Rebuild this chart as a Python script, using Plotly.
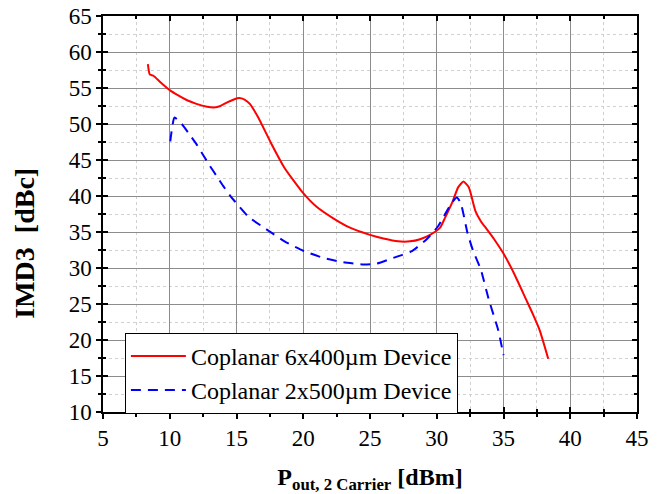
import plotly.graph_objects as go

# Data
red_name = "Coplanar 6x400µm Device"
red_x = [8.36, 8.5, 8.78, 9.3, 10.0, 10.6, 11.3, 12.0, 12.8, 13.3, 13.8, 14.3, 14.8, 15.2, 15.6,
         16.0, 16.6, 17.6, 18.6, 20.0, 21.0, 22.25, 23.5, 25.0, 26.0, 27.1, 28.0, 28.75, 29.5,
         30.25, 30.6, 31.2, 31.6, 32.0, 32.4, 32.9, 33.3, 33.7, 34.3, 35.0, 35.8, 36.7, 37.2,
         37.7, 38.35]
red_y = [58.3, 56.9, 56.7, 55.8, 54.7, 54.0, 53.3, 52.8, 52.4, 52.3, 52.5, 53.0, 53.4, 53.6, 53.4,
         52.8, 51.0, 47.3, 43.9, 40.4, 38.5, 36.9, 35.6, 34.6, 34.1, 33.7, 33.7, 34.0, 34.6,
         35.6, 36.9, 39.3, 41.2, 42.0, 41.2, 37.9, 36.5, 35.5, 34.0, 32.0, 29.2, 25.6, 23.6,
         21.4, 17.4]

blue_name = "Coplanar 2x500µm Device"
blue_x = [10.04, 10.36, 10.9, 11.5, 12.0, 12.5, 13.0, 13.5, 14.0, 14.5, 14.9, 15.9, 17.3, 18.6,
          20.0, 21.5, 23.0, 24.5, 25.5, 26.75, 28.1, 29.25, 30.1, 31.1, 31.5, 31.8, 32.3, 32.7,
          33.3, 33.9, 34.6, 35.0]
blue_y = [47.6, 50.9, 50.0, 48.5, 47.2, 45.7, 44.2, 42.8, 41.4, 40.1, 39.2, 37.1, 35.3, 33.7,
          32.4, 31.4, 30.8, 30.5, 30.6, 31.4, 32.3, 34.0, 35.8, 39.0, 39.8, 39.0, 34.9, 32.5,
          29.8, 25.6, 21.4, 17.9]

x_range = [5, 45]
y_range = [10, 65]
x_ticks = [5, 10, 15, 20, 25, 30, 35, 40, 45]
y_ticks = [10, 15, 20, 25, 30, 35, 40, 45, 50, 55, 60, 65]

x_title = "<b>P<sub>out, 2 Carrier</sub> [dBm]</b>"
y_title = "<b>IMD3\u00a0\u00a0[dBc]</b>"

FONT = "Liberation Serif, Times New Roman, serif"

fig = go.Figure()
fig.add_trace(go.Scatter(x=red_x, y=red_y, mode="lines", name=red_name,
                         line=dict(color="#ff0000", width=2, shape="spline", smoothing=0.5)))
fig.add_trace(go.Scatter(x=blue_x, y=blue_y, mode="lines", name=blue_name,
                         line=dict(color="#0000ff", width=2, dash="10px,7px",
                                   shape="spline", smoothing=0.5)))
# invisible trace to hold the overlay axes (inside ticks on all sides)
fig.add_trace(go.Scatter(x=red_x, y=red_y, mode="lines", xaxis="x2", yaxis="y2",
                         line=dict(width=0, color="rgba(0,0,0,0)"), showlegend=False,
                         hoverinfo="skip"))

common = dict(showline=True, linecolor="black", linewidth=1.5, automargin=False,
              tickfont=dict(family=FONT, size=23, color="black"))

fig.update_layout(
    width=660, height=494,
    margin=dict(l=103, r=23, t=16, b=82),
    plot_bgcolor="white", paper_bgcolor="white",
    font=dict(family=FONT, color="black"),
    xaxis=dict(range=x_range, tickvals=x_ticks, ticks="outside", ticklen=5, tickwidth=1.5,
               tickcolor="black", showgrid=True, gridcolor="#8c8c8c", gridwidth=1,
               zeroline=False, mirror=True,
               minor=dict(dtick=2.5, ticks="outside", ticklen=3, tickcolor="black",
                          showgrid=True, gridcolor="#d0d0d0", griddash="dot", gridwidth=1),
               title=dict(text=x_title, font=dict(family=FONT, size=24), standoff=26),
               **common),
    yaxis=dict(range=y_range, tickvals=y_ticks, ticks="outside", ticklen=5, tickwidth=1.5,
               tickcolor="black", showgrid=True, gridcolor="#8c8c8c", gridwidth=1,
               zeroline=False, mirror=True,
               minor=dict(dtick=2.5, ticks="outside", ticklen=3, tickcolor="black",
                          showgrid=True, gridcolor="#d0d0d0", griddash="dot", gridwidth=1),
               **common),
    xaxis2=dict(range=x_range, tickvals=x_ticks, overlaying="x", anchor="y2", side="bottom",
                ticks="inside", ticklen=5, tickwidth=1.5, tickcolor="black", mirror="allticks",
                showline=True, linecolor="black", linewidth=1.5, showgrid=False,
                zeroline=False, showticklabels=False, automargin=False,
                minor=dict(dtick=2.5, ticks="inside", ticklen=3, tickcolor="black")),
    yaxis2=dict(range=y_range, tickvals=y_ticks, overlaying="y", anchor="x2", side="left",
                ticks="inside", ticklen=5, tickwidth=1.5, tickcolor="black", mirror="allticks",
                showline=True, linecolor="black", linewidth=1.5, showgrid=False,
                zeroline=False, showticklabels=False, automargin=False,
                minor=dict(dtick=2.5, ticks="inside", ticklen=3, tickcolor="black")),
    legend=dict(x=0.041, y=0.2, xanchor="left", yanchor="top",
                bgcolor="white", bordercolor="black", borderwidth=1,
                font=dict(family=FONT, size=24, color="black"),
                itemwidth=55, tracegroupgap=0),
    showlegend=True,
    annotations=[dict(text=y_title, xref="paper", yref="paper", x=-0.146, y=0.425,
                      xanchor="center", yanchor="middle", textangle=-90, showarrow=False,
                      font=dict(family=FONT, size=28, color="black"))],
)

fig.write_html("out.html")
